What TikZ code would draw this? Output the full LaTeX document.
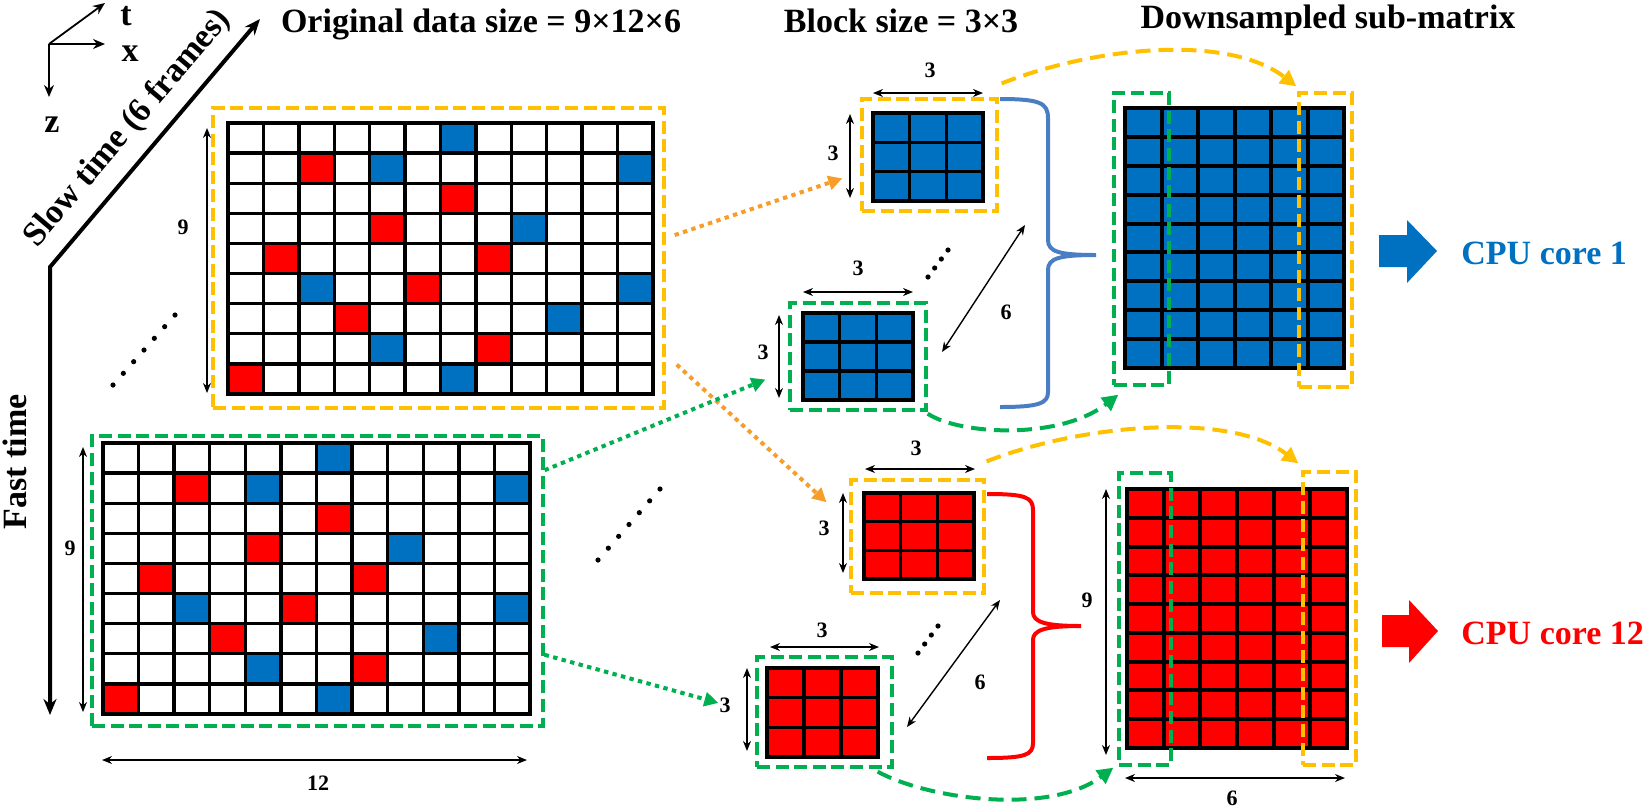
\documentclass[tikz,border=0pt]{standalone}
\usepackage{fontspec}
\setmainfont{Liberation Serif}
\usetikzlibrary{arrows.meta,fit,calc}
\definecolor{cblue}{RGB}{0,112,192}
\definecolor{cred}{RGB}{255,0,0}
\definecolor{cgold}{RGB}{255,192,0}
\definecolor{cgreen}{RGB}{0,176,80}
\definecolor{corange}{RGB}{248,158,40}
\definecolor{cbrace}{RGB}{74,126,196}
% #1 x0 #2 y0 #3 x1 #4 y1 #5 ncols #6 nrows #7 line width
\newcommand\cellgrid[7]{%
  \foreach \k in {1,...,#5} {\ifnum\k<#5\relax \draw[line width=#7] ({#1+\k*(#3-#1)/#5},#2) -- ({#1+\k*(#3-#1)/#5},#4);\fi}
  \foreach \k in {1,...,#6} {\ifnum\k<#6\relax \draw[line width=#7] (#1,{#2+\k*(#4-#2)/#6}) -- (#3,{#2+\k*(#4-#2)/#6});\fi}
  \draw[line width=#7] (#1,#2) rectangle (#3,#4);
}
\newcommand\datagrid[4]{%
  \foreach \r/\c in {0/6,1/4,1/11,3/8,5/2,5/11,6/9,7/4,8/6}
    \fill[cblue] ({#1+\c*(#3-#1)/12},{#2+\r*(#4-#2)/9}) rectangle ({#1+(\c+1)*(#3-#1)/12},{#2+(\r+1)*(#4-#2)/9});
  \foreach \r/\c in {1/2,2/6,3/4,4/1,4/7,5/5,6/3,7/7,8/0}
    \fill[cred] ({#1+\c*(#3-#1)/12},{#2+\r*(#4-#2)/9}) rectangle ({#1+(\c+1)*(#3-#1)/12},{#2+(\r+1)*(#4-#2)/9});
  \cellgrid{#1}{#2}{#3}{#4}{12}{9}{1.7pt}
}
\begin{document}
\begin{tikzpicture}[x=0.5pt,y=-0.5pt,
  big/.style={font=\fontsize{17}{20}\selectfont\bfseries, inner sep=0pt},
  small/.style={font=\fontsize{11}{13}\selectfont\bfseries, inner sep=0pt},
  ybox/.style={draw=cgold, line width=1.65pt, dash pattern=on 6.5pt off 2.8pt, inner sep=0pt},
  gbox/.style={draw=cgreen, line width=1.65pt, dash pattern=on 6.5pt off 2.8pt, inner sep=0pt},
  dim/.style={line width=0.7pt, {Stealth[length=5pt,width=4pt]}-{Stealth[length=5pt,width=4pt]}},
  axarr/.style={line width=0.9pt, -{Stealth[length=6pt,width=5pt]}},
  timeline/.style={line width=2pt, {Stealth[length=8pt,width=6.5pt]}-{Stealth[length=8pt,width=6.5pt]}},
  dotarr/.style={line width=2pt, dash pattern=on 2.2pt off 2.2pt, -{Triangle[length=7pt,width=7pt]}},
  curvy/.style={line width=2pt, dash pattern=on 7.5pt off 4pt, -{Triangle[length=8pt,width=8pt]}},
  brace/.style={line width=2pt},
]
\useasboundingbox (0,0) rectangle (1646,810);

% ---------- axes ----------
\coordinate (O) at (49,44);
\coordinate (At) at (105,3);
\coordinate (Ax) at (105,44);
\coordinate (Az) at (49,97);
\draw[axarr] (O) -- (At);
\draw[axarr] (O) -- (Ax);
\draw[axarr] (O) -- (Az);
\node[big, anchor=base] (lt) at (126,25) {t};
\node[big, anchor=base] (lx) at (130,61) {x};
\node[big, anchor=base] (lz) at (52,132) {z};

% ---------- time axes ----------
\coordinate (Bend) at (50,267);
\coordinate (FastEnd) at (50,715);
\coordinate (SlowEnd) at (260,19);
\draw[timeline] (FastEnd) -- (Bend) -- (SlowEnd);
\path (Bend) -- node[big, sloped, pos=0.48, above=7pt] (slowlab) {Slow time (6 frames)} (SlowEnd);
\node[big, rotate=90] (fastlab) at (15,462) {Fast time};

% ---------- titles ----------
\node[big, anchor=base] (title1) at (481,32) {Original data size = 9×12×6};
\node[big, anchor=base] (title2) at (901,32) {Block size = 3×3};
\node[big, anchor=base] (title3) at (1328,28) {Downsampled sub-matrix};

% ---------- original data frames ----------
\datagrid{228}{123}{653}{394}
\datagrid{103}{443}{530}{714}
\node[ybox, fit={(213,108) (664,408)}] (F1) {};
\node[gbox, fit={(92,436) (543,726)}] (F2) {};

% ---------- blocks ----------
\fill[cblue] (873,113) rectangle (983,201); \cellgrid{873}{113}{983}{201}{3}{3}{1.8pt}
\fill[cblue] (803,313) rectangle (913,400); \cellgrid{803}{313}{913}{400}{3}{3}{1.8pt}
\fill[cred] (864,493) rectangle (974,579); \cellgrid{864}{493}{974}{579}{3}{3}{1.8pt}
\fill[cred] (767,668) rectangle (878,757); \cellgrid{767}{668}{878}{757}{3}{3}{1.8pt}
\node[ybox, fit={(862,99) (997,211)}] (B1) {};
\node[gbox, fit={(790,303) (926,410)}] (B2) {};
\node[ybox, fit={(851,480) (984,593)}] (R1) {};
\node[gbox, fit={(757,657) (892,767)}] (R2) {};

% ---------- downsampled sub-matrices ----------
\fill[cblue] (1125,108) rectangle (1344,368); \cellgrid{1125}{108}{1344}{368}{6}{9}{2pt}
\fill[cred] (1127,489) rectangle (1347,748); \cellgrid{1127}{489}{1347}{748}{6}{9}{2pt}
\node[gbox, fit={(1114,93) (1169,385)}] (DG1) {};
\node[ybox, fit={(1299,93) (1352,387)}] (DY1) {};
\node[gbox, fit={(1119,473) (1171,765)}] (DG2) {};
\node[ybox, fit={(1303,472) (1356,765)}] (DY2) {};

% ---------- dotted connectors ----------
\draw[dotarr, draw=corange, shorten <=4.75pt, shorten >=9.5pt] (F1.5) -- (B1.194);
\draw[dotarr, draw=corange, shorten <=7.5pt, shorten >=15.5pt] (F1.-23) -- (R1.169);
\draw[dotarr, draw=cgreen, shorten >=12.4pt] (F2.26) -- (B2.191);
\draw[dotarr, draw=cgreen, shorten >=19.2pt] (F2.-18) -- (R2.181);

% ---------- dashed curved connectors ----------
\draw[curvy, draw=cgold] ($(B1.north east)+(3,-14)$) .. controls (1100,45) and (1230,35) .. ($(DY1.north west)+(-1,-5)$);
\draw[curvy, draw=cgreen] ($(B2.south east)+(0,2)$) .. controls (960,435) and (1060,440) .. ($(DG1.south west)+(6,8)$);
\draw[curvy, draw=cgold] ($(R1.north east)+(1,-17)$) .. controls (1085,423) and (1232,412) .. ($(DY2.north west)+(-3,-7)$);
\draw[curvy, draw=cgreen] ($(R2.south east)+(-16,3)$) .. controls (930,800) and (1050,815) .. ($(DG2.south west)+(-4,1)$);

% ---------- braces ----------
\draw[brace, draw=cbrace] (1000,99) .. controls (1040,99) and (1048,103) .. (1048,118) -- (1048,240)
  .. controls (1048,252) and (1060,255) .. (1096,255) .. controls (1060,255) and (1048,258) .. (1048,270)
  -- (1048,392) .. controls (1048,403) and (1040,407) .. (1000,407);
\draw[brace, draw=cred] (987,494) .. controls (1025,494) and (1033,497) .. (1033,510) -- (1033,612)
  .. controls (1033,622) and (1045,626) .. (1081,626) .. controls (1045,626) and (1033,630) .. (1033,640)
  -- (1033,743) .. controls (1033,755) and (1025,758) .. (987,758);

% ---------- dimension arrows ----------
\draw[dim] (207,128) -- (207,393);
\draw[dim] (83,447) -- (83,712);
\draw[dim] (102,760) -- (527,760);
\draw[dim] (873,93) -- (983,93);
\draw[dim] (850,114) -- (850,198);
\draw[dim] (803,292) -- (913,292);
\draw[dim] (779,315) -- (779,398);
\draw[dim] (865,469) -- (975,469);
\draw[dim] (843,493) -- (843,573);
\draw[dim] (770,647) -- (879,647);
\draw[dim] (747,668) -- (747,751);
\draw[dim] (942,352) -- (1025,225);
\draw[dim] (907,727) -- (1000,600);
\draw[dim] (1106,489) -- (1106,755);
\draw[dim] (1125,778) -- (1345,778);

\node[small] (n9a) at (183,227) {9};
\node[small] (n9b) at (70,548) {9};
\node[small] (n12) at (318,783) {12};
\node[small] (b1h) at (930,70) {3};
\node[small] (b1v) at (833,153) {3};
\node[small] (b2h) at (858,268) {3};
\node[small] (b2v) at (763,352) {3};
\node[small] (r1h) at (916,448) {3};
\node[small] (r1v) at (824,528) {3};
\node[small] (r2h) at (822,630) {3};
\node[small] (r2v) at (725,705) {3};
\node[small] (s6a) at (1006,312) {6};
\node[small] (s6b) at (980,682) {6};
\node[small] (d9) at (1087,600) {9};
\node[small] (d6) at (1232,798) {6};

% ---------- ellipsis dots ----------
\foreach \i in {0,...,6} \fill ({113+\i*62/6},{385-\i*70/6}) circle (1.3pt);
\foreach \i in {0,...,6} \fill ({598+\i*62/6},{560-\i*71/6}) circle (1.3pt);
\foreach \i in {0,...,3} \fill ({928+\i*20/3},{277-\i*27/3}) circle (1.3pt);
\foreach \i in {0,...,3} \fill ({918+\i*20/3},{653-\i*27/3}) circle (1.3pt);

% ---------- block arrows and CPU labels ----------
\fill[cblue] (1379,235) -- (1407,235) -- (1407,220) -- (1437,251) -- (1407,283) -- (1407,267) -- (1379,267) -- cycle;
\fill[cred] (1382,615) -- (1409,615) -- (1409,600) -- (1438,631) -- (1409,663) -- (1409,647) -- (1382,647) -- cycle;
\node[big, anchor=base west, text=cblue] (cpu1) at (1461,264) {CPU core 1};
\node[big, anchor=base west, text=cred] (cpu12) at (1461,644) {CPU core 12};
\end{tikzpicture}
\end{document}
